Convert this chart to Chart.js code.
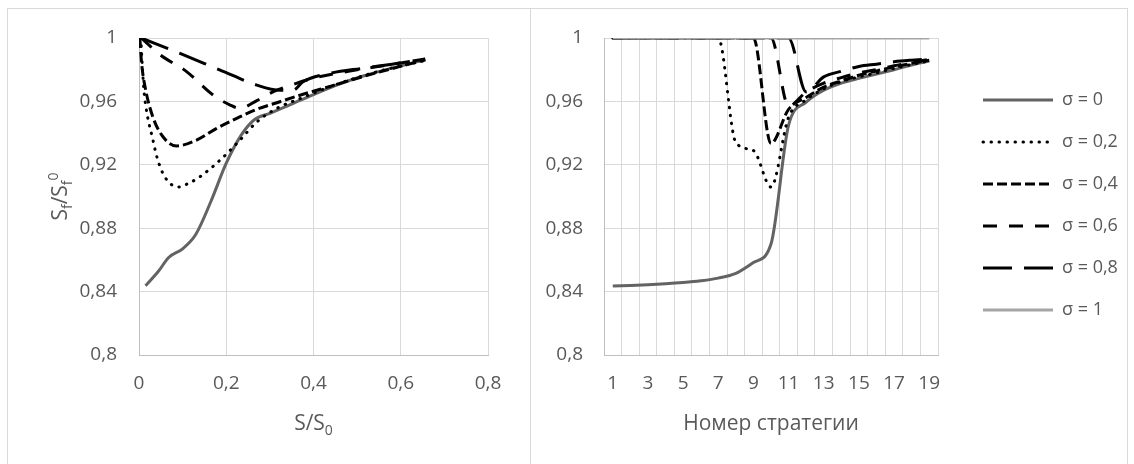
<!DOCTYPE html>
<html>
<head>
<meta charset="utf-8">
<script src="https://cdn.jsdelivr.net/npm/chart.js@4.4.1/dist/chart.umd.min.js"></script>
<style>
html, body { margin: 0; padding: 0; background: #fff; }
body { width: 1134px; height: 464px; position: relative; overflow: hidden; }
.frame { position: absolute; border: 1px solid #d9d9d9; box-sizing: border-box; }
canvas { position: absolute; top: 0; }
</style>
</head>
<body>
<div class="frame" style="left:7px;top:8px;width:524px;height:470px"></div>
<div class="frame" style="left:530px;top:8px;width:598px;height:470px"></div>
<canvas id="left" width="531" height="464" style="left:0"></canvas>
<canvas id="right" width="603" height="464" style="left:531px"></canvas>
<script>
// легенда и оси
var sigmaLabels = ['σ = 0', 'σ = 0,2', 'σ = 0,4', 'σ = 0,6', 'σ = 0,8', 'σ = 1'];
var yTicks = [0.8, 0.84, 0.88, 0.92, 0.96, 1];
var ratioTicks = [0, 0.2, 0.4, 0.6, 0.8];
var strategies = ['1','2','3','4','5','6','7','8','9','10','11','12','13','14','15','16','17','18','19'];

// левый график: S/S0 -> Sf/Sf0
var ratioX0 = [0.015, 0.045, 0.068, 0.1, 0.13, 0.165, 0.2, 0.235, 0.265, 0.3, 0.347, 0.397, 0.45, 0.514, 0.58, 0.656];
var ratioY0 = [0.8437, 0.853, 0.8615, 0.867, 0.876, 0.897, 0.921, 0.939, 0.9486, 0.9525, 0.958, 0.964, 0.970, 0.976, 0.981, 0.9862];
var ratioX2 = [0.004, 0.011, 0.02, 0.03, 0.042, 0.06, 0.09, 0.115, 0.14, 0.186, 0.2315, 0.27, 0.316, 0.376, 0.45, 0.55, 0.656];
var ratioY2 = [1.0, 0.968, 0.95, 0.938, 0.924, 0.912, 0.906, 0.9085, 0.9125, 0.923, 0.9356, 0.947, 0.9556, 0.9625, 0.9705, 0.979, 0.9858];
var ratioX4 = [0.002, 0.006, 0.014, 0.032, 0.055, 0.086, 0.132, 0.178, 0.224, 0.27, 0.323, 0.376, 0.438, 0.514, 0.656];
var ratioY4 = [1.0, 0.984, 0.969, 0.95, 0.9377, 0.9319, 0.9356, 0.943, 0.9493, 0.955, 0.9598, 0.9645, 0.9695, 0.9757, 0.9863];
var ratioX6 = [0.005, 0.048, 0.109, 0.17, 0.209, 0.2315, 0.27, 0.307, 0.346, 0.399, 0.48, 0.56, 0.656];
var ratioY6 = [1.0, 0.9895, 0.9788, 0.964, 0.9577, 0.9556, 0.9605, 0.966, 0.970, 0.9746, 0.979, 0.9825, 0.9866];
var ratioX8 = [0.005, 0.094, 0.186, 0.27, 0.323, 0.353, 0.376, 0.438, 0.513, 0.58, 0.656];
var ratioY8 = [1.0, 0.9903, 0.9798, 0.9703, 0.967, 0.967, 0.9724, 0.9777, 0.9809, 0.9835, 0.9868];

// правый график: номер стратегии -> Sf/Sf0
var strat0 = [0.8435, 0.8439, 0.8443, 0.8449, 0.8457, 0.8468, 0.8485, 0.8515, 0.8583, 0.8700, 0.9450, 0.9595, 0.9670, 0.9715, 0.9745, 0.9772, 0.9800, 0.9830, 0.9855];
var strat2 = [1, 1, 1, 1, 1, 1, 1, 0.9340, 0.9290, 0.9060, 0.9500, 0.9610, 0.9680, 0.9725, 0.9755, 0.9780, 0.9808, 0.9833, 0.9856];
var strat4 = [1, 1, 1, 1, 1, 1, 1, 1, 1, 0.9335, 0.9550, 0.9625, 0.9690, 0.9730, 0.9765, 0.9792, 0.9818, 0.9840, 0.9860];
var strat6 = [1, 1, 1, 1, 1, 1, 1, 1, 1, 1, 0.9570, 0.9660, 0.9715, 0.9750, 0.9780, 0.9800, 0.9825, 0.9845, 0.9865];
var strat8 = [1, 1, 1, 1, 1, 1, 1, 1, 1, 1, 1, 0.9660, 0.9755, 0.9790, 0.9820, 0.9835, 0.9850, 0.9860, 0.9868];
var strat10 = [1, 1, 1, 1, 1, 1, 1, 1, 1, 1, 1, 1, 1, 1, 1, 1, 1, 1, 1];

var FONT = '"Open Sans", sans-serif';
var TEXT = '#595959';
var lineStyles = [
    { color: '#636363', dash: [], cap: 'butt' },
    { color: '#000000', dash: [0.5, 7.5], cap: 'round' },
    { color: '#000000', dash: [10, 4], cap: 'butt' },
    { color: '#000000', dash: [14, 12], cap: 'butt' },
    { color: '#000000', dash: [29, 12], cap: 'butt' },
    { color: '#a5a5a5', dash: [], cap: 'butt' }
];

function fmt(v) {
    return String(Math.round(v * 100) / 100).replace('.', ',');
}

function makeSet(i, data) {
    var s = lineStyles[i];
    return {
        label: sigmaLabels[i],
        data: data,
        borderColor: s.color,
        backgroundColor: s.color,
        borderWidth: 3,
        borderDash: s.dash,
        borderCapStyle: s.cap,
        pointRadius: 0,
        pointHoverRadius: 0,
        cubicInterpolationMode: 'monotone',
        fill: false,
        order: 5 - i // последняя серия рисуется сверху, как в Excel
    };
}

function xy(xs, ys) {
    return xs.map(function (x, j) { return { x: x, y: ys[j] }; });
}

// подписи осей с индексами (S_f, S_0)
function drawRich(ctx, parts, x, y, rot) {
    var total = 0;
    parts.forEach(function (p) {
        ctx.font = (p.sub || p.sup ? 14 : 21) + 'px ' + FONT;
        p.w = ctx.measureText(p.t).width;
        total += p.w;
    });
    ctx.save();
    ctx.translate(x, y);
    ctx.rotate(rot);
    var cx = -total / 2;
    parts.forEach(function (p) {
        ctx.font = (p.sub || p.sup ? 14 : 21) + 'px ' + FONT;
        var dy = p.sub ? 5 : (p.sup ? -9 : 0);
        ctx.fillText(p.t, cx, dy);
        cx += p.w;
    });
    ctx.restore();
}

var richTitles = {
    id: 'richTitles',
    afterDraw: function (chart, args, opts) {
        var ctx = chart.ctx, a = chart.chartArea;
        ctx.save();
        ctx.fillStyle = TEXT;
        ctx.textBaseline = 'alphabetic';
        ctx.textAlign = 'left';
        if (opts.x) drawRich(ctx, opts.x, (a.left + a.right) / 2, a.bottom + 75, 0);
        if (opts.y) drawRich(ctx, opts.y, a.left - 72, (a.top + a.bottom) / 2, -Math.PI / 2);
        ctx.restore();
    }
};

function yScale(width, pad) {
    return {
        min: 0.8, max: 1,
        afterBuildTicks: function (s) { s.ticks = yTicks.map(function (v) { return { value: v }; }); },
        afterFit: function (s) { s.width = width; },
        grid: { color: '#d9d9d9', drawTicks: false },
        border: { color: '#bfbfbf' },
        ticks: { padding: pad, color: TEXT, font: { family: FONT, size: 19 }, callback: function (v) { return fmt(v); } }
    };
}

// пустая ось-распорка
function spacer(pos, size) {
    return {
        type: 'linear', position: pos, display: true,
        grid: { display: false }, border: { display: false }, ticks: { display: false },
        afterFit: function (s) { if (pos === 'top') s.height = size; else s.width = size; }
    };
}

new Chart(document.getElementById('left').getContext('2d'), {
    type: 'line',
    data: {
        datasets: [
            makeSet(0, xy(ratioX0, ratioY0)),
            makeSet(1, xy(ratioX2, ratioY2)),
            makeSet(2, xy(ratioX4, ratioY4)),
            makeSet(3, xy(ratioX6, ratioY6)),
            makeSet(4, xy(ratioX8, ratioY8))
        ]
    },
    options: {
        responsive: false,
        animation: false,
        events: [],
        layout: { padding: { left: 10, top: 38, right: 43, bottom: 0 } },
        scales: {
            x: {
                type: 'linear', min: 0, max: 0.8,
                afterBuildTicks: function (s) { s.ticks = ratioTicks.map(function (v) { return { value: v }; }); },
                afterFit: function (s) { s.height = 109; },
                grid: { color: '#d9d9d9', drawTicks: false },
                border: { color: '#bfbfbf' },
                ticks: { padding: 17, maxRotation: 0, color: TEXT, font: { family: FONT, size: 19 }, callback: function (v) { return fmt(v); } }
            },
            y: yScale(129, 22)
        },
        plugins: {
            legend: { display: false },
            tooltip: { enabled: false },
            richTitles: {
                x: [{ t: 'S/S' }, { t: '0', sub: true }],
                y: [{ t: 'S' }, { t: 'f', sub: true }, { t: '/S' }, { t: 'f', sub: true }, { t: '0', sup: true }]
            }
        }
    },
    plugins: [richTitles]
});

// ширина текста легенды, чтобы область построения встала на место
var mctx = document.createElement('canvas').getContext('2d');
mctx.font = '18px ' + FONT;
var legendTextW = Math.max.apply(null, sigmaLabels.map(function (t) { return mctx.measureText(t).width; }));
var rightPad = 603 - 407 - 21 - (24 + 70 + 9 + legendTextW + 10);

new Chart(document.getElementById('right').getContext('2d'), {
    type: 'line',
    data: {
        labels: strategies,
        datasets: [
            makeSet(0, strat0),
            makeSet(1, strat2),
            makeSet(2, strat4),
            makeSet(3, strat6),
            makeSet(4, strat8),
            makeSet(5, strat10)
        ]
    },
    options: {
        responsive: false,
        animation: false,
        events: [],
        layout: { padding: { left: 10, top: 10, right: rightPad, bottom: 64 } },
        scales: {
            x: {
                type: 'category', offset: true,
                afterFit: function (s) { s.height = 45; },
                grid: { color: '#d9d9d9', drawTicks: false, offset: true },
                border: { color: '#bfbfbf' },
                ticks: {
                    autoSkip: false, maxRotation: 0, padding: 17, color: TEXT,
                    font: { family: FONT, size: 19 },
                    callback: function (v, i) { return i % 2 === 0 ? strategies[i] : ''; }
                }
            },
            y: yScale(63, 21),
            gapRight: spacer('right', 21),
            gapTop: spacer('top', 28)
        },
        plugins: {
            legend: {
                position: 'right',
                align: 'center',
                maxWidth: 400,
                labels: {
                    usePointStyle: true,
                    pointStyle: 'line',
                    pointStyleWidth: 70,
                    padding: 24,
                    color: TEXT,
                    font: { family: FONT, size: 18 },
                    sort: function (a, b) { return a.datasetIndex - b.datasetIndex; },
                    generateLabels: function (chart) {
                        var items = Chart.defaults.plugins.legend.labels.generateLabels(chart);
                        items.forEach(function (it) {
                            var ds = chart.data.datasets[it.datasetIndex];
                            it.lineDash = ds.borderDash;
                            it.lineCap = ds.borderCapStyle;
                            it.lineWidth = ds.borderWidth;
                            it.strokeStyle = ds.borderColor;
                        });
                        return items;
                    }
                }
            },
            tooltip: { enabled: false },
            richTitles: { x: [{ t: 'Номер стратегии' }] }
        }
    },
    plugins: [richTitles]
});
</script>
</body>
</html>
